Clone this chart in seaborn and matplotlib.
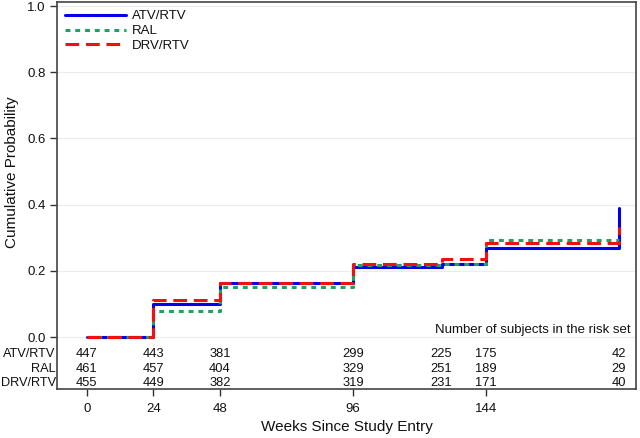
import matplotlib
matplotlib.use("Agg")
import matplotlib.pyplot as plt
import matplotlib.transforms as mtransforms
import seaborn as sns
import pandas as pd

# Step curve data (cumulative probability at each week)
weeks = [0, 24, 48, 96, 128, 144, 192]
atv_rtv = [0.0, 0.100, 0.162, 0.211, 0.222, 0.269, 0.389]
ral = [0.0, 0.078, 0.152, 0.219, 0.222, 0.292, 0.292]
drv_rtv = [0.0, 0.111, 0.163, 0.222, 0.237, 0.283, 0.334]

groups = ["ATV/RTV", "RAL", "DRV/RTV"]

# Number at risk
risk_weeks = [0, 24, 48, 96, 128, 144, 192]
risk_atv = [447, 443, 381, 299, 225, 175, 42]
risk_ral = [461, 457, 404, 329, 251, 189, 29]
risk_drv = [455, 449, 382, 319, 231, 171, 40]

xticks = [0, 24, 48, 96, 144]
yticks = [0.0, 0.2, 0.4, 0.6, 0.8, 1.0]

sns.set_style("white")
plt.rcParams["font.family"] = ["Liberation Sans", "DejaVu Sans"]

df = pd.concat([
    pd.DataFrame({"week": weeks, "prob": vals, "group": g})
    for g, vals in zip(groups, [atv_rtv, ral, drv_rtv])
])

styles = {
    "ATV/RTV": dict(color="#0000ee", linestyle="-"),
    "RAL": dict(color="#22a060", linestyle=(0, (1.6, 1.6))),
    "DRV/RTV": dict(color="#ee1111", linestyle=(0, (4.5, 2.2))),
}

fig = plt.figure(figsize=(6.4, 4.38), dpi=100)
ax = fig.add_axes([0.089, 0.112, 0.905, 0.883])

for g in groups:
    sns.lineplot(data=df[df["group"] == g], x="week", y="prob", ax=ax,
                 drawstyle="steps-post", estimator=None, linewidth=2.2,
                 label=g, **styles[g])

ax.set_xlim(-10.8, 198.2)
ax.set_ylim(-0.157, 1.012)
ax.set_xticks(xticks)
ax.set_yticks(yticks)
ax.set_yticklabels([f"{v:.1f}" for v in yticks])
ax.tick_params(axis="both", direction="out", length=5, width=1, color="#333333",
               labelsize=9.5, pad=3, left=True, bottom=True, labelcolor="#111111")
ax.tick_params(axis="x", pad=5)
ax.grid(axis="y", color="#ececec", linewidth=0.8)
for s in ax.spines.values():
    s.set_color("#444444")
    s.set_linewidth(1.2)

ax.set_xlabel("Weeks Since Study Entry", fontsize=11, labelpad=4, color="#111111")
ax.set_ylabel("Cumulative Probability", fontsize=11, color="#111111")
ax.yaxis.set_label_coords(-0.066, 0.56)

# risk table inside the axes
trans = mtransforms.blended_transform_factory(ax.transAxes, ax.transData)
row_y = [-0.051, -0.097, -0.139]
for lab, counts, yy in zip(groups, [risk_atv, risk_ral, risk_drv], row_y):
    ax.text(-0.002, yy, lab, transform=trans, ha="right", va="center",
            fontsize=9.2, color="#111111")
    for w, c in zip(risk_weeks, counts):
        ax.text(w, yy, str(c), ha="center", va="center", fontsize=9.3,
                color="#111111")
ax.text(0.99, 0.022, "Number of subjects in the risk set", transform=trans,
        ha="right", va="center", fontsize=9.5, color="#111111")

leg = ax.legend(loc="upper left", frameon=False, fontsize=9.5, handlelength=4.6,
                handletextpad=0.5, labelspacing=0.2, borderaxespad=0.2,
                bbox_to_anchor=(0.0, 1.0))
for t in leg.get_texts():
    t.set_color("#111111")

fig.savefig("out.png", dpi=100)
